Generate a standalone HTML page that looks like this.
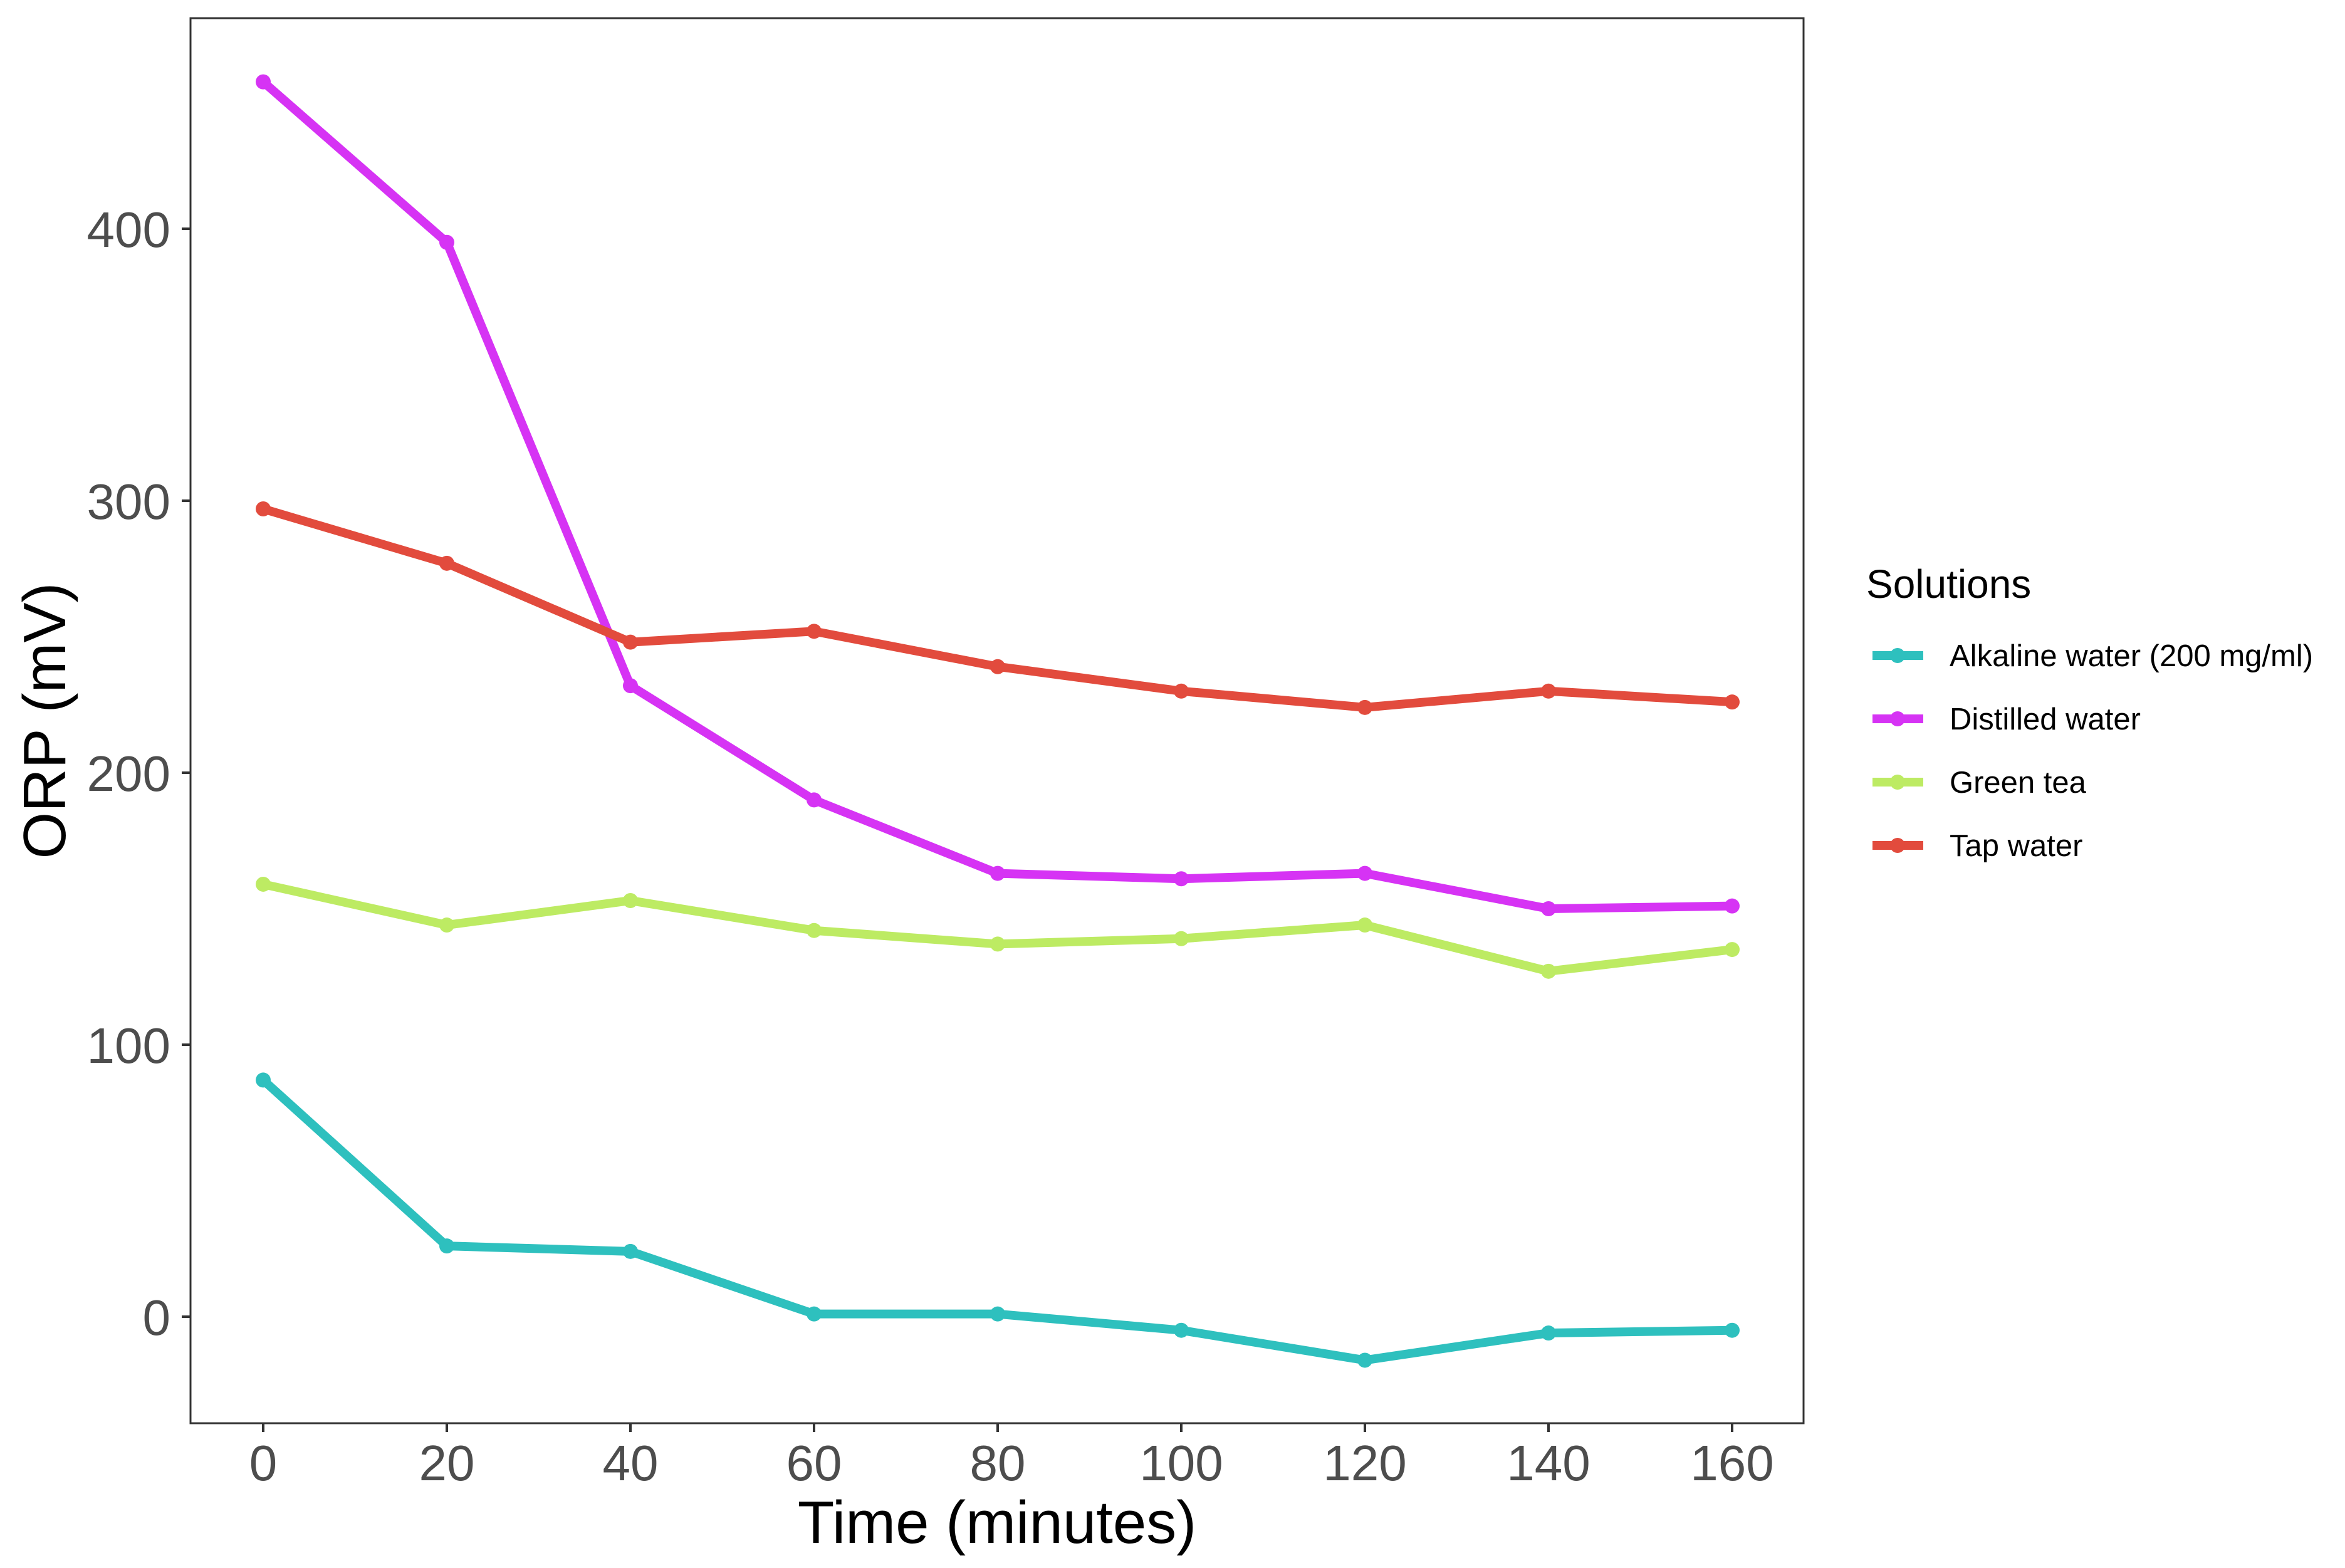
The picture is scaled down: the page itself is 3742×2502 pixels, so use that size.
<!DOCTYPE html>
<html><head><meta charset="utf-8"><style>
html,body{margin:0;padding:0;background:#fff;}
svg{display:block;font-family:"Liberation Sans",sans-serif;}
</style></head><body>
<svg id="chart" width="3742" height="2502" viewBox="0 0 3742 2502"></svg>
<script>
const categories = [0, 20, 40, 60, 80, 100, 120, 140, 160];
const seriesNames = ["Alkaline water (200 mg/ml)", "Distilled water", "Green tea", "Tap water"];
const alkaline = [87, 26, 24, 1, 1, -5, -16, -6, -5];
const distilled = [454, 395, 232, 190, 163, 161, 163, 150, 151];
const greenTea = [159, 144, 153, 142, 137, 139, 144, 127, 135];
const tapWater = [297, 277, 248, 252, 239, 230, 224, 230, 226];
const xTicks = [0, 20, 40, 60, 80, 100, 120, 140, 160];
const yTicks = [0, 100, 200, 300, 400];

const NS = "http://www.w3.org/2000/svg";
const svg = document.getElementById("chart");
const colors = ["#2EC0BE", "#D633F4", "#BDEB63", "#E24B3D"];
const allSeries = [alkaline, distilled, greenTea, tapWater];
const P = {l: 304, r: 2878, t: 29, b: 2271};
const X = v => 420 + (v - 0) * (2764 - 420) / 160;
const Y = v => 2101 + v * (365 - 2101) / 400;

function mk(tag, attrs, parent) {
  const e = document.createElementNS(NS, tag);
  for (const k in attrs) e.setAttribute(k, attrs[k]);
  (parent || svg).appendChild(e);
  return e;
}

const panel = mk("rect", {x: P.l, y: P.t, width: P.r - P.l, height: P.b - P.t, fill: "#fff", stroke: "#333", "stroke-width": 3});



xTicks.forEach(v => {
  const t = mk("line", {x1: X(v), x2: X(v), y1: P.b, y2: P.b + 14, stroke: "#333", "stroke-width": 4});
  
  
  const l = mk("text", {x: X(v), y: 2362, "text-anchor": "middle", "font-size": 80, fill: "#4D4D4D"});
  l.textContent = v;
  
  
});
yTicks.forEach(v => {
  const t = mk("line", {x1: P.l - 14, x2: P.l, y1: Y(v), y2: Y(v), stroke: "#333", "stroke-width": 4});
  
  
  const l = mk("text", {x: 272, y: Y(v) + 29, "text-anchor": "end", "font-size": 80, fill: "#4D4D4D"});
  l.textContent = v;
  
  
});

const xt = mk("text", {x: (P.l + P.r) / 2, y: 2462, "text-anchor": "middle", "font-size": 96, fill: "#000"});
xt.textContent = "Time (minutes)";


const yt = mk("text", {x: 0, y: 0, "text-anchor": "middle", "font-size": 96, fill: "#000", transform: "translate(104," + ((P.t + P.b) / 2) + ") rotate(-90)"});
yt.textContent = "ORP (mV)";



allSeries.forEach((s, i) => {
  const g = mk("g", {});
  
  
  const pl = mk("polyline", {points: s.map((v, j) => X(categories[j]) + "," + Y(v)).join(" "), fill: "none", stroke: colors[i], "stroke-width": 14, "stroke-linejoin": "round"}, g);
  
  
  s.forEach((v, j) => {
    const c = mk("circle", {cx: X(categories[j]), cy: Y(v), r: 12, fill: colors[i]}, g);
    
    
  });
});

const lg = mk("g", {});


const lt = mk("text", {x: 2978, y: 954, "font-size": 64, fill: "#000"}, lg);
lt.textContent = "Solutions";


seriesNames.forEach((n, i) => {
  const cy = 1046 + i * 101;
  const e = mk("g", {}, lg);
  
  
  mk("line", {x1: 2988, x2: 3069, y1: cy, y2: cy, stroke: colors[i], "stroke-width": 14}, e);
  mk("circle", {cx: 3028, cy: cy, r: 12, fill: colors[i]}, e);
  const t = mk("text", {x: 3111, y: cy + 17, "font-size": 49, fill: "#000"}, e);
  t.textContent = n;
});
</script>
</body></html>
